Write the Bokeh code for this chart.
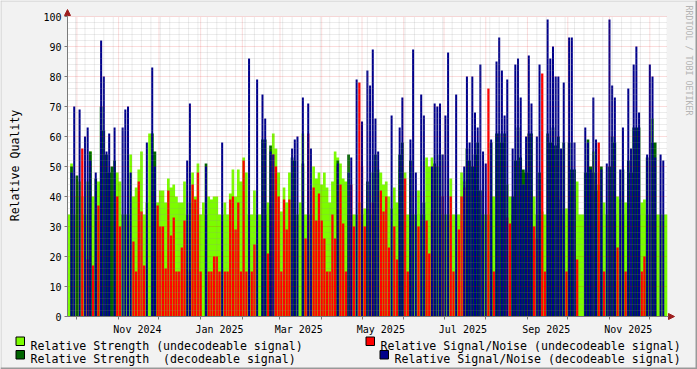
import datetime as dt
from math import pi

from bokeh.plotting import figure
from bokeh.models import FixedTicker, Arrow, NormalHead, Range1d
from bokeh.core.properties import value
from bokeh.embed import file_html
from bokeh.resources import INLINE

# ---------------------------------------------------------------- data
START = dt.date(2024, 9, 24)      # first day shown on the time axis
BIN_DAYS = 2                      # each value covers two days
X_END = 445.4                     # days shown

# Relative Strength (undecodeable signal)
strength_undec = [
    34, 51, 34, 40, 45, 40, 34, 45, 55, 40,
    34, 45, 45, 34, 40, 34, 41, 34, 48, 45,
    34, 34, 34, 54, 40, 43, 49, 55, 34, 38,
    61, 61, 34, 38, 42, 42, 38, 46, 43, 44,
    40, 38, 38, 45, 34, 38, 48, 40, 51, 34,
    38, 34, 40, 39, 40, 40, 34, 34, 38, 34,
    41, 49, 40, 49, 45, 53, 48, 34, 34, 42,
    34, 34, 34, 34, 38, 34, 61, 56, 48, 35,
    43, 38, 48, 34, 34, 34, 38, 61, 34, 34,
    34, 50, 46, 48, 44, 48, 43, 38, 45, 55,
    53, 51, 46, 45, 34, 34, 34, 34, 38, 34,
    36, 36, 34, 48, 34, 49, 48, 44, 45, 40,
    36, 43, 38, 49, 34, 48, 34, 34, 34, 34,
    42, 34, 34, 53, 50, 53, 34, 50, 34, 34,
    34, 34, 46, 34, 34, 34, 48, 45, 34, 34,
    34, 34, 34, 34, 34, 34, 34, 40, 40, 34,
    34, 34, 34, 44, 40, 34, 34, 34, 34, 34,
    34, 34, 42, 40, 34, 34, 35, 34, 34, 34,
    34, 34, 34, 36, 34, 36, 34, 34, 34, 45,
    34, 34, 34, 34, 42, 55, 48, 44, 34, 38,
    34, 34, 34, 34, 40, 39, 34, 38, 34, 34,
    34, 34, 34, 38, 39, 34, 34, 66, 34, 34,
    34, 34, 34,
]

# Relative Signal/Noise (undecodeable signal)
snr_undec = [
    0, 0, 0, 0, 0, 56, 0, 19, 0, 17,
    0, 37, 0, 0, 0, 44, 0, 0, 40, 30,
    0, 0, 0, 0, 25, 15, 45, 35, 17, 0,
    0, 0, 0, 37, 30, 30, 16, 42, 27, 33,
    15, 15, 23, 32, 0, 15, 44, 39, 48, 15,
    0, 0, 15, 15, 20, 20, 15, 0, 15, 15,
    39, 40, 29, 38, 15, 52, 15, 0, 15, 24,
    0, 0, 0, 0, 21, 37, 54, 50, 40, 15,
    39, 29, 39, 0, 0, 0, 0, 0, 26, 61,
    15, 43, 32, 41, 32, 26, 15, 15, 34, 26,
    50, 44, 31, 15, 0, 44, 30, 0, 78, 50,
    30, 0, 15, 38, 0, 0, 42, 35, 40, 23,
    0, 30, 19, 0, 0, 46, 15, 0, 0, 0,
    30, 0, 0, 32, 21, 35, 50, 0, 40, 40,
    0, 0, 40, 15, 0, 29, 40, 43, 0, 34,
    0, 0, 0, 29, 0, 0, 76, 0, 15, 0,
    0, 0, 0, 33, 31, 0, 0, 0, 0, 0,
    0, 0, 0, 30, 26, 0, 81, 15, 0, 0,
    0, 0, 39, 0, 0, 15, 0, 0, 39, 19,
    0, 0, 0, 0, 27, 45, 42, 58, 0, 15,
    0, 0, 0, 0, 23, 0, 0, 15, 0, 0,
    0, 0, 0, 15, 20, 0, 0, 0, 0, 0,
    0, 0, 0,
]

# Relative Strength (decodeable signal)
strength_dec = [
    0, 50, 0, 47, 0, 0, 0, 0, 55, 0,
    46, 0, 70, 62, 54, 48, 50, 52, 0, 0,
    0, 0, 0, 0, 0, 0, 0, 0, 0, 0,
    0, 61, 55, 0, 0, 0, 0, 0, 0, 0,
    0, 0, 0, 0, 0, 0, 0, 0, 0, 0,
    0, 51, 0, 0, 0, 0, 0, 0, 0, 0,
    0, 0, 0, 0, 0, 0, 0, 0, 0, 0,
    0, 0, 59, 59, 0, 57, 0, 0, 0, 0,
    0, 0, 0, 53, 52, 0, 0, 51, 0, 0,
    0, 0, 0, 0, 0, 0, 0, 0, 0, 0,
    52, 0, 0, 0, 54, 0, 0, 0, 0, 0,
    0, 45, 0, 0, 54, 0, 0, 0, 0, 0,
    0, 0, 0, 54, 58, 0, 0, 52, 0, 0,
    0, 0, 38, 0, 0, 0, 51, 0, 54, 0,
    0, 0, 0, 0, 0, 0, 0, 0, 56, 52,
    50, 54, 58, 42, 0, 0, 0, 58, 0, 61,
    61, 58, 61, 0, 0, 40, 52, 63, 53, 49,
    48, 61, 61, 0, 0, 48, 0, 0, 61, 58,
    63, 57, 60, 0, 58, 0, 58, 49, 49, 0,
    0, 0, 48, 59, 50, 48, 42, 0, 50, 0,
    0, 50, 60, 58, 0, 0, 49, 0, 52, 48,
    63, 63, 63, 0, 0, 53, 0, 58, 58, 0,
    0, 0, 0,
]

# Relative Signal/Noise (decodeable signal)
snr_dec = [
    0, 48, 70, 0, 69, 0, 60, 63, 52, 0,
    48, 0, 92, 80, 55, 61, 0, 63, 0, 0,
    63, 69, 70, 48, 0, 0, 0, 0, 0, 58,
    0, 83, 50, 0, 0, 0, 0, 0, 0, 0,
    0, 0, 0, 0, 52, 71, 0, 0, 0, 0,
    0, 50, 0, 0, 0, 0, 0, 58, 0, 0,
    0, 0, 0, 0, 0, 0, 0, 86, 0, 0,
    79, 0, 74, 66, 0, 55, 54, 0, 0, 0,
    0, 0, 0, 56, 59, 60, 0, 73, 0, 71,
    56, 0, 0, 0, 0, 0, 0, 0, 0, 0,
    51, 0, 0, 0, 48, 53, 0, 79, 0, 65,
    0, 82, 77, 89, 66, 55, 0, 0, 0, 0,
    67, 0, 0, 63, 73, 0, 0, 59, 89, 48,
    0, 74, 67, 0, 0, 50, 71, 70, 71, 54,
    67, 88, 0, 0, 74, 0, 0, 50, 80, 58,
    80, 68, 63, 84, 55, 51, 0, 59, 0, 85,
    93, 82, 67, 79, 0, 56, 84, 86, 73, 44,
    60, 87, 71, 0, 60, 84, 0, 0, 99, 86,
    90, 80, 80, 56, 78, 0, 93, 93, 58, 0,
    0, 0, 63, 58, 49, 73, 59, 0, 49, 0,
    51, 99, 77, 73, 0, 49, 63, 0, 76, 56,
    84, 90, 68, 0, 0, 54, 84, 80, 53, 0,
    54, 52, 0,
]

x_label_dates = [dt.date(2024, 11, 15), dt.date(2025, 1, 15), dt.date(2025, 3, 15),
                 dt.date(2025, 5, 15), dt.date(2025, 7, 15), dt.date(2025, 9, 15),
                 dt.date(2025, 11, 15)]
x_labels = ["Nov 2024", "Jan 2025", "Mar 2025", "May 2025", "Jul 2025", "Sep 2025", "Nov 2025"]
y_ticks = list(range(0, 101, 10))
y_minor = list(range(0, 101, 2))

legend_texts = ["Relative Strength (undecodeable signal)",
                "Relative Signal/Noise (undecodeable signal)",
                "Relative Strength \u00a0(decodeable signal)",
                "Relative Signal/Noise (decodeable signal)"]

# ---------------------------------------------------------------- styles
BACK = "#F2F2F2"
LGREEN, RED, DGREEN, BLUE = "#7CFC00", "#FF0000", "#006400", "#00008B"
legend_colors = [LGREEN, RED, DGREEN, BLUE]
AXIS = "#7A7A7A"
ARROW = "#9E1E1E"
FONT = "DejaVu Sans Mono"
W, H = 697, 369
FRAME_L, FRAME_R, FRAME_T, FRAME_B = 67, 666, 16, 316   # rrd canvas in pixels


def sx(px):
    return (px - FRAME_L) / (FRAME_R - FRAME_L) * X_END


def sy(py):
    return (FRAME_B - py) / (FRAME_B - FRAME_T) * 100


def day(d):
    return (d - START).days


month_starts = []
yy, mm = 2024, 10
while day(dt.date(yy, mm, 1)) <= X_END:
    month_starts.append(day(dt.date(yy, mm, 1)))
    mm += 1
    if mm > 12:
        mm, yy = 1, yy + 1
weeks = [w for w in range(day(dt.date(2024, 9, 30)), int(X_END) + 1, 7) if w not in month_starts]
label_days = [day(d) for d in x_label_dates]

n = len(strength_undec)
edges = [i * BIN_DAYS for i in range(n + 1)]
centers = [i * BIN_DAYS + BIN_DAYS / 2 for i in range(n)]

# ---------------------------------------------------------------- figure
p = figure(width=W, height=H, x_range=Range1d(sx(0), sx(W)), y_range=Range1d(sy(H), sy(0)),
           output_backend="svg", toolbar_location=None,
           min_border=0, min_border_left=0, min_border_right=0,
           min_border_top=0, min_border_bottom=0)
p.background_fill_color = BACK
p.border_fill_color = BACK
p.outline_line_color = None
p.xgrid.visible = False
p.ygrid.visible = False

# rrd canvas (white)
p.quad(left=[0], right=[X_END], bottom=[0], top=[100], fill_color="#FFFFFF", line_color=None)

# data
p.varea_step(x=edges, y1=[0] * (n + 1), y2=strength_undec + [strength_undec[-1]],
             step_mode="after", fill_color=LGREEN)
p.vbar(x=centers, width=1.7, bottom=0, top=snr_undec, fill_color=RED, line_color=None)
p.varea_step(x=edges, y1=[0] * (n + 1), y2=strength_dec + [strength_dec[-1]],
             step_mode="after", fill_color=DGREEN)
p.vbar(x=centers, width=1.5, bottom=0, top=snr_dec, fill_color=BLUE, line_color=None)

# grid on top of the data, as rrdtool draws it
p.segment(x0=weeks, x1=weeks, y0=[0] * len(weeks), y1=[100] * len(weeks),
          line_color="#909090", line_alpha=0.35, line_dash="1 1", line_width=1)
hmin = [v for v in y_minor if v not in y_ticks]
p.segment(x0=[0] * len(hmin), x1=[X_END] * len(hmin), y0=hmin, y1=hmin,
          line_color="#909090", line_alpha=0.35, line_dash="1 1", line_width=1)
p.segment(x0=month_starts, x1=month_starts, y0=[0] * len(month_starts), y1=[100] * len(month_starts),
          line_color="#E00000", line_alpha=0.28, line_dash="1 1", line_width=1)
p.segment(x0=[0] * len(y_ticks), x1=[X_END] * len(y_ticks), y0=y_ticks, y1=y_ticks,
          line_color="#E00000", line_alpha=0.28, line_dash="1 1", line_width=1)

# axes placed at the rrd canvas edges
xa = p.xaxis[0]
xa.fixed_location = 0
xa.bounds = (0, X_END)
xa.ticker = FixedTicker(ticks=label_days, minor_ticks=month_starts)
xa.major_label_overrides = {d: lab for d, lab in zip(label_days, x_labels)}
xa.major_tick_line_color = None
xa.major_tick_out = 0
xa.major_tick_in = 0
xa.minor_tick_out = 3
xa.minor_tick_in = 0
xa.minor_tick_line_color = AXIS
xa.major_label_standoff = 4

ya = p.yaxis[0]
ya.fixed_location = 0
ya.bounds = (0, 100)
ya.ticker = FixedTicker(ticks=y_ticks, minor_ticks=y_minor)
ya.major_tick_out = 3
ya.major_tick_in = 0
ya.minor_tick_out = 0
ya.minor_tick_in = 0
ya.major_tick_line_color = AXIS
ya.major_label_standoff = 3

for ax in (xa, ya):
    ax.axis_line_color = AXIS
    ax.major_label_text_font = FONT
    ax.major_label_text_font_size = "10px"
    ax.major_label_text_color = "#000000"

# axis title
p.text(x=[sx(14)], y=[sy(165)], text=["Relative Quality"], angle=pi / 2,
       text_align="center", text_baseline="alphabetic", text_font=value(FONT),
       text_font_size="11.6px", text_color="#000000")

# axis arrows
p.add_layout(Arrow(x_start=0, y_start=100, x_end=0, y_end=sy(9),
                   line_color=AXIS, line_width=1,
                   end=NormalHead(size=6, fill_color=ARROW, line_color=ARROW)))
p.add_layout(Arrow(x_start=X_END, y_start=0, x_end=sx(674), y_end=0,
                   line_color=AXIS, line_width=1,
                   end=NormalHead(size=6, fill_color=ARROW, line_color=ARROW)))

# 3D border of the canvas
borders = [(0, W, 0, 1, "#CBCBCB"), (0, 1, 0, H, "#CBCBCB"),
           (0, W, H - 2, H, "#999999"), (W - 2, W, 0, H, "#999999")]
p.quad(left=[sx(b[0]) for b in borders], right=[sx(b[1]) for b in borders],
       top=[sy(b[2]) for b in borders], bottom=[sy(b[3]) for b in borders],
       fill_color=[b[4] for b in borders], line_color=None)

# watermark
p.text(x=[sx(688)], y=[sy(5)], text=["RRDTOOL / TOBI OETIKER"], angle=-pi / 2,
       text_align="left", text_baseline="middle", text_font=value(FONT),
       text_font_size="8.3px", text_color="#B4B4B4")

# legend (rrdtool style, two justified rows)
box_px = [(15.5, 336.5), (365.5, 336.5), (15.5, 350.0), (379.5, 350.0)]
text_px = [(30, 345), (380, 345), (30, 358.5), (394, 358.5)]
p.quad(left=[sx(b[0]) for b in box_px], right=[sx(b[0] + 8.5) for b in box_px],
       top=[sy(b[1]) for b in box_px], bottom=[sy(b[1] + 8.5) for b in box_px],
       fill_color=legend_colors, line_color="#000000", line_width=1)
p.text(x=[sx(t[0]) for t in text_px], y=[sy(t[1]) for t in text_px], text=legend_texts,
       text_align="left", text_baseline="alphabetic", text_font=value(FONT),
       text_font_size="11.6px", text_color="#000000")

open("out.html", "w").write(file_html(p, INLINE))
